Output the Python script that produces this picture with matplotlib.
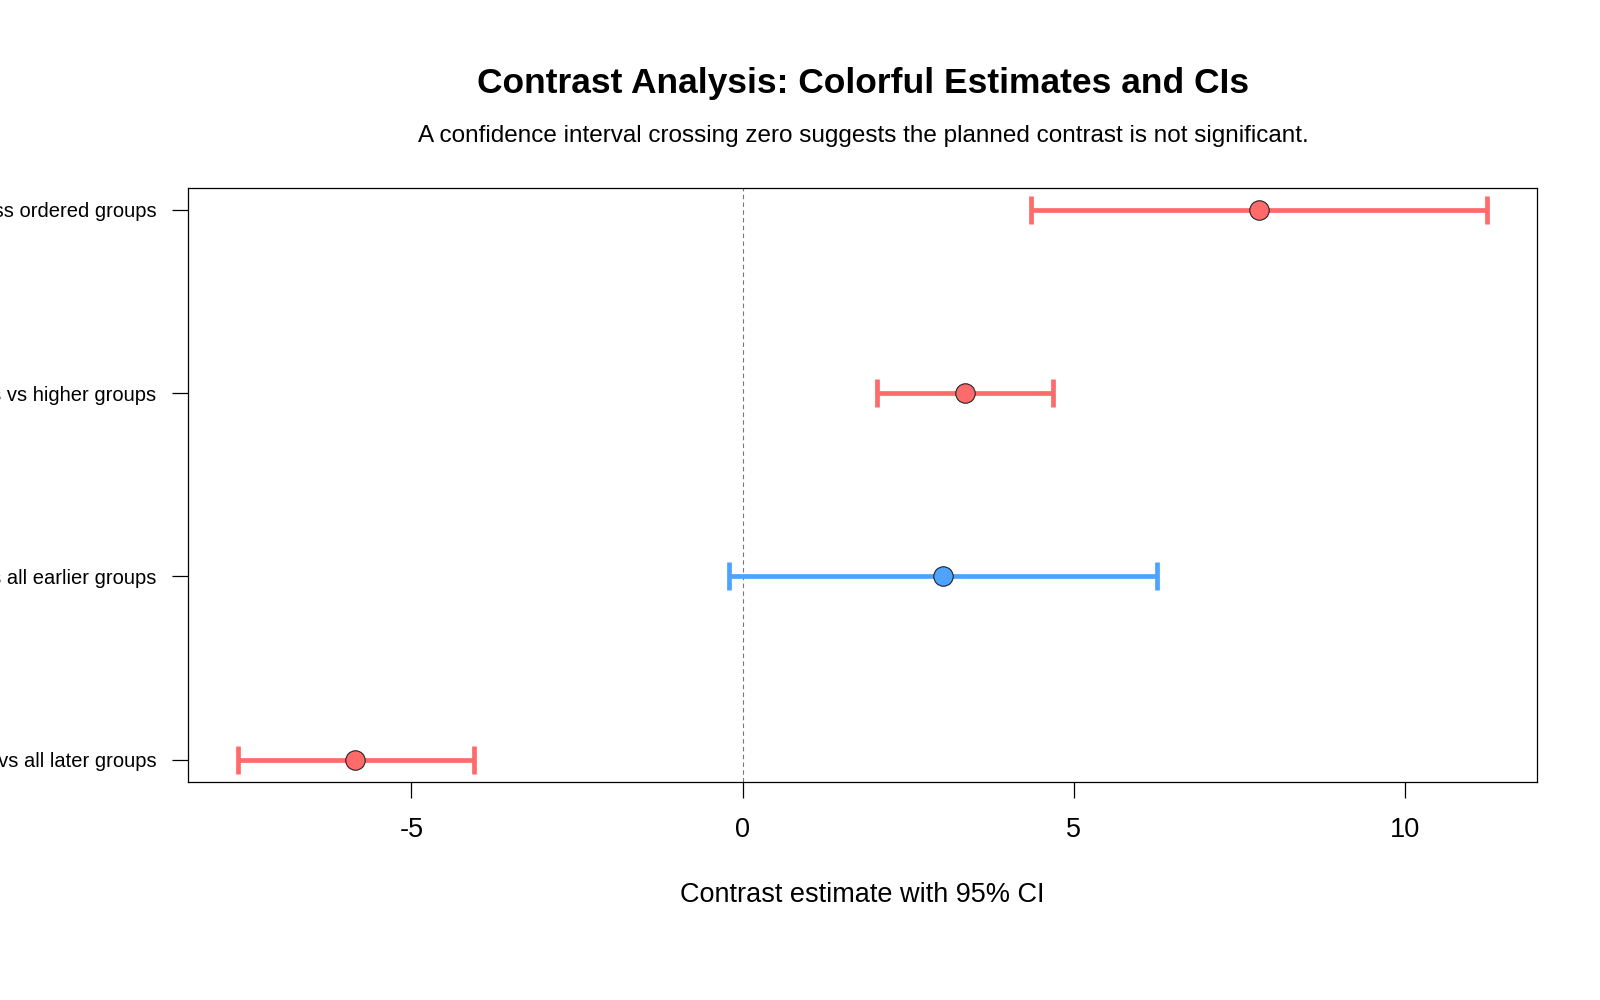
import numpy as np
import matplotlib
matplotlib.use('Agg')
import matplotlib.pyplot as plt

plt.rcParams['font.family'] = ['Liberation Sans', 'DejaVu Sans']

# Données des contrastes (du bas vers le haut)
contrastes = ['First group vs all later groups',
              'Last group vs all earlier groups',
              'Lower groups vs higher groups',
              'Linear trend across ordered groups']
estimations = [-5.85, 3.03, 3.35, 7.80]
ic_bas = [-7.62, -0.20, 2.03, 4.35]
ic_haut = [-4.05, 6.25, 4.69, 11.23]
couleurs = ['#FF6B6B', '#4DA3FF', '#FF6B6B', '#FF6B6B']

fig = plt.figure(figsize=(16, 10), dpi=100)
ax = fig.add_axes([0.1174, 0.2184, 0.8430, 0.5938])

y = np.arange(1, len(contrastes) + 1)
for i in range(len(contrastes)):
    ax.errorbar(estimations[i], y[i],
                xerr=[[estimations[i] - ic_bas[i]], [ic_haut[i] - estimations[i]]],
                fmt='none', ecolor=couleurs[i], elinewidth=3.4,
                capsize=10.4, capthick=3.4, zorder=2)
    ax.plot(estimations[i], y[i], 'o', markersize=14, markerfacecolor=couleurs[i],
            markeredgecolor='#222222', markeredgewidth=0.8, zorder=3)

ax.axvline(0, color='#777777', linestyle=(0, (4, 3)), linewidth=0.8, zorder=1)

# étendue style R (4 %)
xmin, xmax = min(ic_bas), max(ic_haut)
pad = (xmax - xmin) * 0.04
ax.set_xlim(xmin - pad, xmax + pad)
ax.set_ylim(1 - 0.12, len(contrastes) + 0.12)

ax.set_yticks(y)
ax.set_yticklabels(contrastes, fontsize=14.5)
ax.set_xticks([-5, 0, 5, 10])
ax.set_xticklabels(['-5', '0', '5', '10'], fontsize=19.5)
ax.tick_params(axis='y', length=11.5, width=0.9, pad=11)
ax.tick_params(axis='x', length=11.5, width=0.9, pad=14)
for s in ax.spines.values():
    s.set_linewidth(0.9)

ax.set_xlabel('Contrast estimate with 95% CI', fontsize=19.5, labelpad=28)

fig.text(0.5393, 0.916, 'Contrast Analysis: Colorful Estimates and CIs',
         ha='center', va='center', fontsize=25.5, fontweight='bold')
fig.text(0.5393, 0.864, 'A confidence interval crossing zero suggests the planned contrast is not significant.',
         ha='center', va='center', fontsize=17.5)

fig.savefig('out.png', dpi=100)
